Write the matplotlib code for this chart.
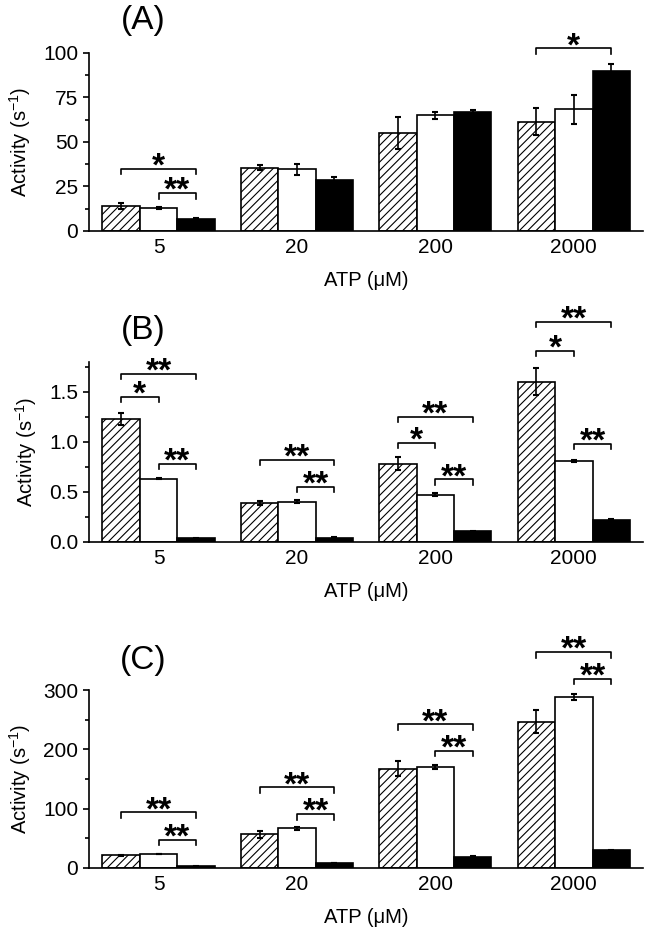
import numpy as np
import matplotlib
matplotlib.use('Agg')
import matplotlib.pyplot as plt
from matplotlib.ticker import AutoMinorLocator, FormatStrFormatter

plt.rcParams['font.family'] = ['Liberation Sans', 'DejaVu Sans']
plt.rcParams['mathtext.default'] = 'regular'
plt.rcParams['hatch.linewidth'] = 0.8

atp = ['5', '20', '200', '2000']

# panel A
a_hatch = [14.0, 35.6, 55.0, 61.2]
a_hatch_err = [1.5, 1.5, 9.0, 7.5]
a_white = [12.9, 34.6, 65.0, 68.2]
a_white_err = [0.5, 3.0, 2.0, 8.0]
a_black = [6.9, 28.5, 67.0, 89.9]
a_black_err = [0.4, 2.0, 1.0, 4.0]
# (group, from bar, to bar, height, label)
a_sig = [(0, 0, 2, 35.0, '*'), (0, 1, 2, 21.3, '**'), (3, 0, 2, 102.4, '*')]

# panel B
b_hatch = [1.23, 0.39, 0.78, 1.60]
b_hatch_err = [0.06, 0.02, 0.065, 0.135]
b_white = [0.63, 0.40, 0.47, 0.81]
b_white_err = [0.005, 0.015, 0.015, 0.01]
b_black = [0.035, 0.04, 0.105, 0.22]
b_black_err = [0.005, 0.005, 0.005, 0.01]
b_sig = [(0, 0, 2, 1.68, '**'), (0, 0, 1, 1.45, '*'), (0, 1, 2, 0.78, '**'),
         (1, 0, 2, 0.82, '**'), (1, 1, 2, 0.55, '**'),
         (2, 0, 2, 1.25, '**'), (2, 0, 1, 0.99, '*'), (2, 1, 2, 0.625, '**'),
         (3, 0, 2, 2.20, '**'), (3, 0, 1, 1.91, '*'), (3, 1, 2, 0.98, '**')]

# panel C
c_hatch = [21.3, 57.0, 167.7, 246.8]
c_hatch_err = [1.0, 6.0, 13.0, 20.0]
c_white = [23.6, 66.7, 170.0, 287.7]
c_white_err = [0.5, 2.0, 3.0, 5.0]
c_black = [2.5, 8.4, 19.0, 30.0]
c_black_err = [0.3, 0.5, 1.0, 1.0]
c_sig = [(0, 0, 2, 93.7, '**'), (0, 1, 2, 47.7, '**'),
         (1, 0, 2, 136.3, '**'), (1, 1, 2, 90.9, '**'),
         (2, 0, 2, 242.3, '**'), (2, 1, 2, 197.4, '**'),
         (3, 0, 2, 364.0, '**'), (3, 1, 2, 319.0, '**')]

panels = [
    ('(A)', [0.1376, 0.7527, 0.8532, 0.1909], (0, 100), 25, '%d',
     a_hatch, a_hatch_err, a_white, a_white_err, a_black, a_black_err, a_sig, 1 - 20/934),
    ('(B)', [0.1376, 0.4200, 0.8532, 0.1927], (0, 1.8), 0.5, '%.1f',
     b_hatch, b_hatch_err, b_white, b_white_err, b_black, b_black_err, b_sig, 1 - 331/934),
    ('(C)', [0.1376, 0.0707, 0.8532, 0.1905], (0, 300), 100, '%d',
     c_hatch, c_hatch_err, c_white, c_white_err, c_black, c_black_err, c_sig, 1 - 660/934),
]

fig = plt.figure(figsize=(6.49, 9.34), dpi=100)
x = np.arange(len(atp))
w = 0.27
lw = 1.2

for (name, pos, ylim, major, fmt, hv, he, wv, we, bv, be, sig, ty) in panels:
    ax = fig.add_axes(pos)
    ax.bar(x - w, hv, w, color='white', edgecolor='black', hatch='////', linewidth=lw, zorder=2)
    ax.bar(x, wv, w, color='white', edgecolor='black', linewidth=lw, zorder=2)
    ax.bar(x + w, bv, w, color='black', edgecolor='black', linewidth=lw, zorder=2)
    for off, v, e in [(-w, hv, he), (0, wv, we), (w, bv, be)]:
        ax.errorbar(x + off, v, yerr=e, fmt='none', ecolor='black', elinewidth=lw,
                    capsize=2.4, capthick=1.5, zorder=3)

    ax.set_xlim(-0.5, 3.5)
    ax.set_ylim(*ylim)
    ax.set_yticks(np.arange(ylim[0], ylim[1] + 1e-9, major))
    ax.yaxis.set_minor_locator(AutoMinorLocator(2))
    ax.yaxis.set_major_formatter(FormatStrFormatter(fmt))
    ax.set_xticks(x, atp)
    ax.tick_params(axis='x', length=0, pad=5, labelsize=15)
    ax.tick_params(axis='y', which='major', length=4, width=lw, pad=4, labelsize=15)
    ax.tick_params(axis='y', which='minor', length=3, width=lw)
    for s in ['top', 'right']:
        ax.spines[s].set_visible(False)
    for s in ['left', 'bottom']:
        ax.spines[s].set_linewidth(lw)
    ax.set_ylabel('Activity (s$^{-1}$)', fontsize=14.5, labelpad=7)
    ax.set_xlabel('ATP (\u03bcM)', fontsize=14.5, labelpad=10)

    # significance brackets
    leg = (ylim[1] - ylim[0]) * 5.5 / (pos[3] * 934)
    for g, i0, i1, h, lab in sig:
        x0 = x[g] + (i0 - 1) * w
        x1 = x[g] + (i1 - 1) * w
        ax.plot([x0, x0, x1, x1], [h - leg, h, h, h - leg], color='black', lw=lw,
                clip_on=False, zorder=4)
        ax.annotate(lab, ((x0 + x1) / 2, h), xytext=(0, -5.0), textcoords='offset points',
                    ha='center', va='baseline', fontsize=24, fontweight='bold',
                    annotation_clip=False)

    fig.text(143/649, ty, name, fontsize=24, ha='center', va='center')

fig.savefig('out.png', dpi=100)
